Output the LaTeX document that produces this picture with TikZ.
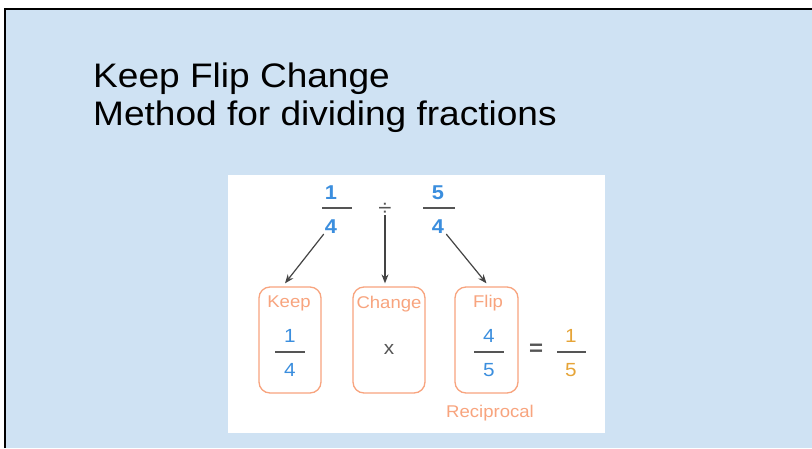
\documentclass[tikz,border=0pt]{standalone}
\usepackage{fontspec}
\setmainfont{Liberation Sans}
\newfontfamily\widesans[FakeStretch=1.09]{Liberation Sans}
\usetikzlibrary{arrows.meta,calc}
\definecolor{slidebg}{HTML}{CFE2F3}
\definecolor{numblue}{HTML}{3B8EDE}
\definecolor{boxorange}{HTML}{F8A47E}
\definecolor{ansgold}{HTML}{E6A437}
\definecolor{arrowgrey}{HTML}{444444}
\definecolor{bargrey}{HTML}{555555}
\tikzset{
  title/.style={anchor=base west,inner sep=0pt,font=\widesans\fontsize{34}{38}\selectfont,text=black},
  topnum/.style={inner sep=0pt,font=\widesans\fontsize{20}{22}\selectfont\bfseries,text=numblue},
  boxnum/.style={inner sep=0pt,font=\widesans\fontsize{19}{22}\selectfont,text=numblue},
  ansnum/.style={inner sep=0pt,font=\widesans\fontsize{19}{22}\selectfont,text=ansgold},
  fbar/.style={draw=bargrey,line width=2.2pt},
  opsym/.style={inner sep=0pt,font=\widesans\fontsize{19}{22}\selectfont,text=bargrey},
  stepbox/.style={draw=boxorange,line width=1.3pt,rounded corners=11pt,minimum height=106pt,inner sep=0pt},
  lbl/.style={inner sep=0pt,font=\widesans\fontsize{17}{19}\selectfont,text=boxorange},
  conn/.style={draw=arrowgrey,line width=1.2pt,-{Stealth[length=9pt,width=7pt]}}
}
\begin{document}
\begin{tikzpicture}[x=1pt,y=-1pt]
\useasboundingbox (0,0) rectangle (812,448);
\fill[white] (0,0) rectangle (812,448);
\fill[slidebg] (5,9) rectangle (812,448);
\draw[black,line width=1.6pt] (5,448) -- (5,9) -- (812,9);
% title
\node[title] (t1) at (93,87) {Keep Flip Change};
\node[title] (t2) at (93,125) {Method for dividing fractions};
% white panel
\fill[white] (228,175) rectangle (605,433);
% top fractions
\node[topnum] (n1) at (331,193) {1};
\draw[fbar] (322,208) -- (352,208);
\node[topnum] (d1) at (331,227) {4};
\node[opsym,font=\widesans\fontsize{22}{22}\selectfont] (div) at (385,209) {÷};
\node[topnum] (n2) at (438,193) {5};
\draw[fbar] (423,208) -- (455,208);
\node[topnum] (d2) at (438,227) {4};
% boxes
\node[stepbox,minimum width=62pt] (keep) at (290,340) {};
\node[stepbox,minimum width=72pt] (change) at (389,340) {};
\node[stepbox,minimum width=63pt] (flip) at (486.5,340) {};
\node[lbl] (lk) at (289,303) {Keep};
\node[lbl] (lc) at (389,304) {Change};
\node[lbl] (lf) at (488,303) {Flip};
% keep fraction
\node[boxnum] (kn) at (290,336) {1};
\draw[fbar,line width=1.9pt] (275,352) -- (305,352);
\node[boxnum] (kd) at (290,370) {4};
% times
\node[opsym] (times) at (389,349) {x};
% flip fraction
\node[boxnum] (fn) at (489,336) {4};
\draw[fbar,line width=1.9pt] (474,352) -- (504,352);
\node[boxnum] (fd) at (489,370) {5};
% equals and answer
\node[opsym,font=\widesans\fontsize{22}{22}\selectfont\bfseries] (eq) at (536,350) {=};
\node[ansnum] (an) at (571,336) {1};
\draw[fbar,line width=1.9pt] (557,352) -- (586,352);
\node[ansnum] (ad) at (571,370) {5};
\node[lbl] (rec) at (490,413) {Reciprocal};
% connectors
\draw[conn] ($(d1.south west)+(-1,0)$) -- ($(keep.north)+(-5,-3)$);
\draw[conn] (div.south) -- ($(change.north)+(-4,-3)$);
\draw[conn] ($(d2.south east)+(2,0)$) -- ($(flip.north)+(0,-3)$);
\end{tikzpicture}
\end{document}
